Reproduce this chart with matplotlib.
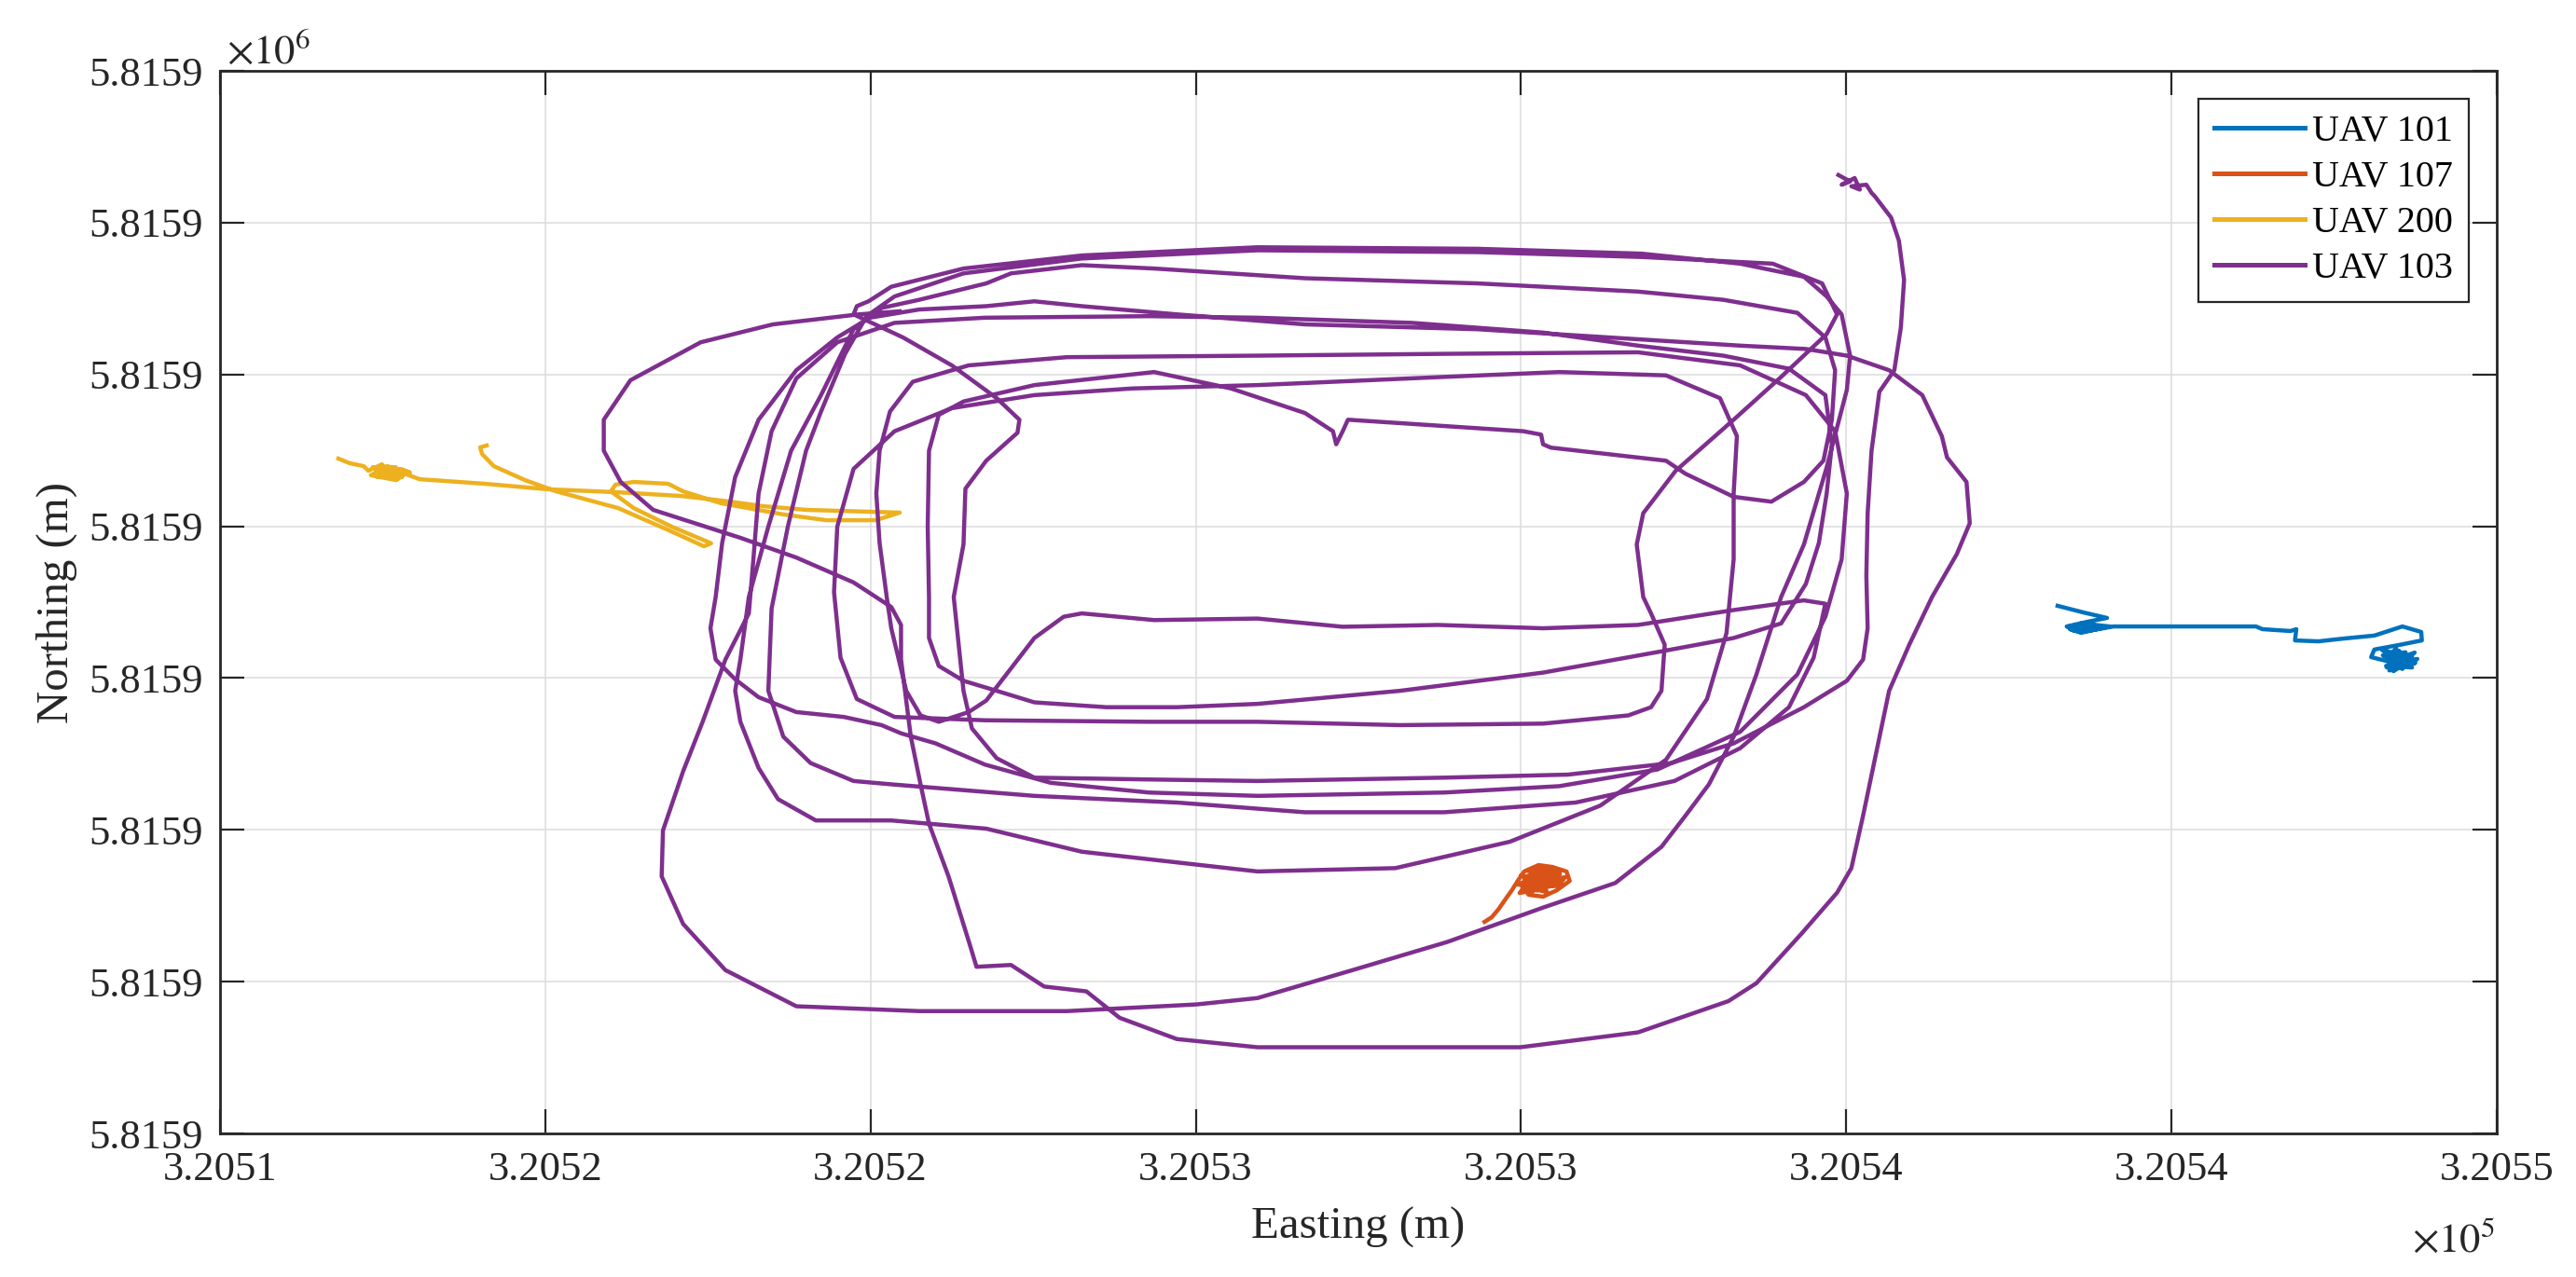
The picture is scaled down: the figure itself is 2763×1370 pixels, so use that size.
#!/usr/bin/env python
'''
UAV tracks, easting / northing
'''
import numpy as np
import matplotlib
matplotlib.use('Agg')
import matplotlib.pyplot as plt

plt.rcParams['font.family'] = ['Liberation Serif', 'DejaVu Serif']
plt.rcParams['mathtext.fontset'] = 'stix'

# local origin of the tracks (m)
E0 = 320510.0
N0 = 5815875.0

# tracks as [east offset, north offset] in metres from the origin
track_101 = [
    [28.25, 17.38], [28.65, 17.16], [29.01, 16.98], [28.72, 16.86], [28.39, 16.70],
    [28.51, 16.55], [28.79, 16.76], [29.05, 16.70], [28.61, 16.49], [28.44, 16.61],
    [28.50, 16.62], [28.80, 16.78], [28.45, 16.72], [28.90, 16.62], [28.60, 16.80],
    [28.70, 16.55],
    [29.11, 16.70], [30.01, 16.70], [31.30, 16.70], [31.40, 16.61], [31.83, 16.55],
    [31.92, 16.61], [31.90, 16.24], [32.26, 16.21], [32.64, 16.30], [33.12, 16.40],
    [33.55, 16.70], [33.84, 16.52], [33.85, 16.24], [33.50, 16.09], [33.12, 15.94],
    [33.07, 15.69], [33.35, 15.54], [33.74, 15.84], [33.41, 15.23], [33.60, 15.47],
    [33.78, 15.63], [33.31, 15.35], [33.52, 15.78], [33.24, 15.92], [33.67, 15.35],
    [33.45, 15.97], [33.30, 15.60], [33.55, 15.30], [33.70, 15.70], [33.40, 15.45],
    [33.60, 15.85], [33.25, 15.75], [33.50, 15.40], [33.75, 15.50], [33.35, 15.25],
    [33.65, 15.60], [33.45, 15.70], [33.55, 15.55], [33.30, 15.40], [33.70, 15.35],
    [33.50, 15.90], [33.40, 15.60],
]

track_107 = [
    [19.44, 6.97], [19.55, 7.12], [19.66, 7.40], [19.76, 7.71], [19.86, 8.01],
    [19.95, 8.32], [20.05, 8.63], [20.27, 8.84], [20.48, 8.78], [20.70, 8.63],
    [20.75, 8.32], [20.55, 8.01], [20.34, 7.80], [20.12, 7.86], [20.01, 8.17],
    [20.19, 8.47], [20.41, 8.32], [20.58, 8.47], [20.27, 8.17], [20.09, 8.47],
    [20.41, 8.72], [20.63, 8.23], [20.19, 8.01], [19.98, 7.92], [20.12, 8.32],
    [20.48, 8.17], [20.34, 8.63], [20.20, 8.60], [20.45, 8.40], [20.15, 8.25],
    [20.60, 8.55], [20.30, 8.05], [20.05, 8.40], [20.50, 8.70], [20.25, 8.45],
    [20.65, 8.35], [20.10, 8.10], [20.40, 7.95], [20.20, 8.75], [20.55, 8.15],
    [19.95, 8.20], [20.35, 8.55], [20.60, 8.65], [20.15, 7.95], [20.45, 8.25],
    [20.00, 8.50], [20.30, 8.30], [20.70, 8.45], [20.25, 8.00], [20.50, 8.50],
    [20.10, 8.65], [20.40, 8.75], [20.35, 8.15],
]

track_200 = [
    [1.82, 22.23], [1.99, 22.08], [2.21, 21.98], [2.28, 21.83], [2.49, 22.04],
    [2.64, 21.68], [2.42, 21.62], [2.78, 21.89], [2.92, 21.77], [2.57, 21.98],
    [2.32, 21.68], [2.71, 21.52], [2.85, 21.74], [2.50, 21.75], [2.70, 21.95],
    [2.40, 21.85], [2.80, 21.62], [2.60, 21.70], [2.35, 21.95], [2.75, 21.80],
    [2.55, 21.60], [2.45, 21.70], [2.65, 21.88],
    [3.07, 21.55], [4.07, 21.40],
    [5.03, 21.22], [6.12, 21.12], [7.08, 21.00], [7.70, 20.85], [8.36, 20.66],
    [9.02, 20.54], [10.45, 20.45], [10.08, 20.20], [9.32, 20.20], [8.66, 20.39],
    [7.70, 20.76], [7.12, 21.15], [6.89, 21.40], [6.36, 21.46], [6.08, 21.37],
    [6.01, 21.15], [6.36, 20.60], [6.94, 19.99], [7.55, 19.44], [7.44, 19.34],
    [6.94, 19.83], [6.12, 20.60], [5.17, 21.15], [4.69, 21.52], [4.21, 21.98],
    [4.03, 22.38], [4.00, 22.60], [4.10, 22.66],
]

track_103 = [
    # take-off and first lap
    [24.88, 31.57], [25.06, 31.36], [24.93, 31.25], [25.13, 31.47], [25.21, 31.09],
    [25.08, 31.20], [25.31, 31.25], [25.39, 30.98], [25.44, 30.87], [25.69, 30.17],
    [25.81, 29.41], [25.89, 28.11], [25.84, 26.54], [25.74, 25.14], [25.51, 24.43],
    [25.39, 22.49], [25.33, 20.43], [25.31, 18.37], [25.33, 16.64], [25.26, 15.61],
    [25.01, 14.91], [24.35, 14.04], [23.27, 12.85], [22.31, 12.20], [20.72, 11.82],
    [18.82, 11.72], [15.95, 11.61], [14.28, 11.66], [12.52, 11.72], [11.94, 12.36],
    [11.56, 13.34], [11.43, 14.58], [11.28, 17.67], [11.43, 19.40], [11.46, 21.24],
    [11.78, 22.16], [12.26, 23.08], [12.29, 23.51], [11.94, 24.22], [11.25, 25.30],
    [10.50, 26.22], [9.74, 26.98], [9.79, 27.25], [9.97, 27.41], [10.32, 27.89],
    [11.43, 28.49], [13.25, 28.92], [15.95, 29.19], [19.33, 29.14], [21.85, 28.98],
    [23.37, 28.65], [24.35, 28.22], [24.70, 27.57], [24.93, 26.98], [25.06, 25.62],
    [25.01, 24.49], [24.70, 21.94], [24.35, 19.40], [24.00, 17.67], [23.62, 15.12],
    [23.27, 13.07], [22.89, 11.50], [22.53, 10.47], [22.16, 9.44], [21.45, 8.25],
    [20.34, 7.44], [18.87, 6.31], [17.41, 5.38], [15.95, 4.46], [15.01, 4.25],
    [13.02, 4.03], [10.75, 4.03], [8.86, 4.19], [7.77, 5.38], [7.12, 6.90],
    [6.79, 8.47], [6.81, 9.98], [7.12, 11.93], [7.42, 13.56], [7.77, 15.61],
    [8.13, 17.13],
    # second lap, V turn in the middle
    [8.20, 18.91], [8.28, 21.08], [8.48, 23.13], [8.86, 24.87], [9.49, 26.06],
    [10.37, 26.70], [11.76, 26.87], [14.28, 26.92], [15.95, 26.87], [18.32, 26.70],
    [20.34, 26.38], [21.80, 25.95], [23.11, 25.62], [24.12, 25.19], [24.68, 24.32],
    [24.78, 22.70], [24.70, 21.08], [24.58, 19.45], [24.38, 18.10], [24.00, 16.80],
    [23.27, 16.32], [22.16, 15.88], [20.34, 15.18], [18.14, 14.58], [15.95, 14.15],
    [14.71, 14.04], [13.63, 14.04], [12.52, 14.20], [11.94, 14.58], [11.43, 14.91],
    [11.05, 15.40], [10.90, 16.32], [10.90, 17.67], [10.88, 19.99], [10.90, 22.49],
    [11.05, 23.67], [11.43, 24.11], [12.52, 24.65], [14.36, 25.08], [15.54, 24.54],
    [16.68, 23.73], [17.11, 23.13], [17.16, 22.70], [17.26, 23.13], [17.34, 23.51],
    [18.82, 23.30], [20.04, 23.13], [20.31, 23.02], [20.34, 22.70], [20.46, 22.59],
    [22.23, 22.16], [22.53, 21.73], [23.27, 20.97], [23.85, 20.81], [24.35, 21.46],
    [24.65, 22.16], [24.78, 23.51], [24.83, 25.14], [24.68, 26.22], [24.25, 27.03],
    [23.11, 27.46], [21.80, 27.73], [19.33, 28.00], [16.68, 28.17], [14.36, 28.49],
    [13.25, 28.60], [12.16, 28.33], [11.78, 28.00], [10.75, 27.46], [10.17, 27.19],
    [9.74, 26.49], [9.24, 24.32], [8.78, 22.49], [8.43, 19.99], [8.13, 17.67],
    [8.00, 15.61], [7.92, 14.58], [8.00, 13.56], [8.28, 12.04], [8.58, 11.01],
    [9.16, 10.31], [10.32, 10.31], [11.78, 10.04], [13.25, 9.28], [15.95, 8.63],
    [18.07, 8.74], [19.83, 9.61], [21.22, 10.80], [22.23, 12.31], [22.86, 14.31],
    [23.16, 16.48], [23.27, 18.91], [23.27, 21.08],
    # third lap
    [23.32, 22.97], [23.06, 24.22], [22.23, 24.97], [20.59, 25.08], [18.82, 24.92],
    [15.95, 24.65], [14.03, 24.54], [12.52, 24.32], [11.25, 23.89], [10.37, 23.13],
    [9.74, 21.89], [9.49, 19.99], [9.44, 17.83], [9.54, 15.67], [9.79, 14.31],
    [10.37, 13.72], [11.76, 13.61], [14.28, 13.56], [15.95, 13.56], [18.14, 13.45],
    [20.34, 13.50], [21.65, 13.77], [22.00, 14.04], [22.16, 14.58], [22.21, 16.10],
    [22.00, 17.13], [21.88, 17.67], [21.78, 19.40], [21.88, 20.43], [22.38, 21.83],
    [23.27, 23.51], [24.00, 24.92], [24.70, 26.33], [24.86, 26.98], [24.63, 28.00],
    [23.87, 28.65], [21.85, 28.87], [19.33, 29.03], [15.95, 29.09], [13.25, 28.82],
    [11.43, 28.33], [10.37, 27.57], [9.94, 26.92], [9.61, 25.68], [9.24, 23.78],
    [9.01, 22.49], [8.73, 19.99], [8.48, 17.29], [8.43, 14.58], [8.66, 13.07],
    [9.08, 12.20], [9.74, 11.61], [10.32, 11.50], [12.52, 11.12], [14.71, 10.90],
    [16.68, 10.58], [18.82, 10.58], [20.84, 10.90], [22.36, 11.61], [23.37, 12.69],
    [24.12, 14.04], [24.50, 15.67], [24.68, 17.45],
    # inner lap
    [24.35, 17.56], [23.27, 17.24], [21.80, 16.75], [20.34, 16.64], [18.72, 16.75],
    [17.26, 16.69], [15.95, 16.96], [14.36, 16.91], [13.25, 17.13], [12.97, 17.02],
    [12.52, 16.32], [12.09, 15.12], [11.78, 14.26], [11.51, 13.88], [11.05, 13.56],
    [10.77, 13.77], [10.55, 14.58], [10.32, 16.64], [10.25, 17.67], [10.14, 19.45],
    [10.09, 21.08], [10.14, 22.49], [10.30, 23.78], [10.65, 24.76], [11.51, 25.30],
    [13.02, 25.57], [15.95, 25.62], [18.82, 25.68], [21.80, 25.73], [23.37, 25.30],
    [24.38, 24.32], [24.83, 23.13], [25.01, 21.08], [24.93, 18.91], [24.68, 17.02],
    [24.25, 15.12], [23.37, 13.23], [22.10, 11.99], [20.59, 11.44], [18.82, 11.23],
    [15.95, 11.12], [14.28, 11.23], [12.77, 11.55], [11.76, 12.15], [11.00, 12.85],
    [10.47, 13.18], [10.17, 13.45], [9.59, 13.72], [8.86, 13.88], [8.28, 14.37],
    [7.92, 14.96], [7.62, 15.61], [7.54, 16.64], [7.62, 17.67], [7.72, 19.45],
    [7.92, 21.62], [8.28, 23.51], [8.86, 25.14], [9.49, 26.22], [9.99, 26.87],
    [10.75, 27.14], [11.78, 27.25], [12.52, 27.41], [13.25, 27.25], [14.71, 26.98],
    [16.68, 26.65], [19.33, 26.49], [21.80, 26.16], [23.37, 25.95], [24.38, 25.84],
    [25.01, 25.62],
    # outer lap and return
    [25.66, 25.14], [26.17, 24.32], [26.47, 22.97], [26.55, 22.27], [26.85, 21.46],
    [26.90, 20.10], [26.70, 19.08], [26.32, 17.67], [25.97, 16.10], [25.66, 14.58],
    [25.46, 12.53], [25.26, 10.47], [25.08, 8.74], [24.86, 7.93], [24.30, 6.55],
    [23.62, 4.95], [23.19, 4.36], [21.80, 3.33], [19.99, 2.84], [15.95, 2.84],
    [14.71, 3.11], [13.83, 3.81], [13.32, 4.68], [12.67, 4.84], [12.16, 5.55],
    [11.63, 5.49], [11.53, 6.20], [11.20, 8.47], [10.90, 10.20], [10.77, 11.50],
    [10.62, 13.07], [10.47, 15.61], [10.47, 16.75], [10.32, 17.34], [9.74, 18.15],
    [8.86, 18.97], [8.00, 19.62], [6.66, 20.54], [6.16, 21.46], [5.90, 22.49],
    [5.90, 23.51], [6.31, 24.81], [7.39, 26.06], [8.50, 26.65], [9.82, 26.98],
    [10.45, 27.08],
]

names = ['UAV 101', 'UAV 107', 'UAV 200', 'UAV 103']
tracks = [track_101, track_107, track_200, track_103]
colors = ['#0072BD', '#D95319', '#EDB120', '#7E2F8E']

x_ticks = [320510, 320515, 320520, 320525, 320530, 320535, 320540, 320545]
x_tick_labels = ['3.2051', '3.2052', '3.2052', '3.2053', '3.2053', '3.2054', '3.2054', '3.2055']
y_ticks = [5815875, 5815880, 5815885, 5815890, 5815895, 5815900, 5815905, 5815910]
y_tick_labels = ['5.8159'] * 8


def main():
    fig = plt.figure(figsize=(13.815, 6.85), dpi=200)
    ax = fig.add_axes([0.0854, 0.1124, 0.8838, 0.8321])

    for name, track, col in zip(names, tracks, colors):
        t = np.array(track)
        ax.plot(E0 + t[:, 0], N0 + t[:, 1], color=col, lw=1.6, label=name,
                solid_joinstyle='round')

    ax.set_xlim(x_ticks[0], x_ticks[-1])
    ax.set_ylim(y_ticks[0], y_ticks[-1])
    ax.set_xticks(x_ticks)
    ax.set_xticklabels(x_tick_labels)
    ax.set_yticks(y_ticks)
    ax.set_yticklabels(y_tick_labels)

    dark = '#262626'
    ax.tick_params(direction='in', top=True, right=True, length=9.4, width=0.8,
                   colors=dark, labelsize=16)
    ax.tick_params(axis='x', pad=7)
    ax.tick_params(axis='y', pad=6.5)
    for s in ax.spines.values():
        s.set_linewidth(1.0)
        s.set_color(dark)

    ax.grid(True, color='#dedede', linewidth=0.6)
    ax.set_axisbelow(True)

    ax.set_xlabel('Easting (m)', fontsize=17.6, color=dark)
    ax.set_ylabel('Northing (m)', fontsize=17.6, color=dark)
    ax.xaxis.set_label_coords(0.5, -0.069)
    ax.yaxis.set_label_coords(-0.0627, 0.5)

    # exponent labels like MATLAB
    ax.text(0.003, 1.007, r'$\times10^{6}$', transform=ax.transAxes,
            fontsize=16, color=dark, ha='left', va='baseline')
    ax.text(0.9995, -0.111, r'$\times10^{5}$', transform=ax.transAxes,
            fontsize=16, color=dark, ha='right', va='baseline')

    leg = ax.legend(loc='upper right', fontsize=14.4, fancybox=False,
                    framealpha=1, edgecolor=dark, borderaxespad=0.75,
                    handlelength=2.43, handletextpad=0.2, borderpad=0.42,
                    labelspacing=0.3)
    leg.get_frame().set_linewidth(0.8)
    for line in leg.get_lines():
        line.set_linewidth(1.8)

    fig.savefig('out.png', dpi=200)
    plt.clf()


if __name__ == '__main__':
    main()
